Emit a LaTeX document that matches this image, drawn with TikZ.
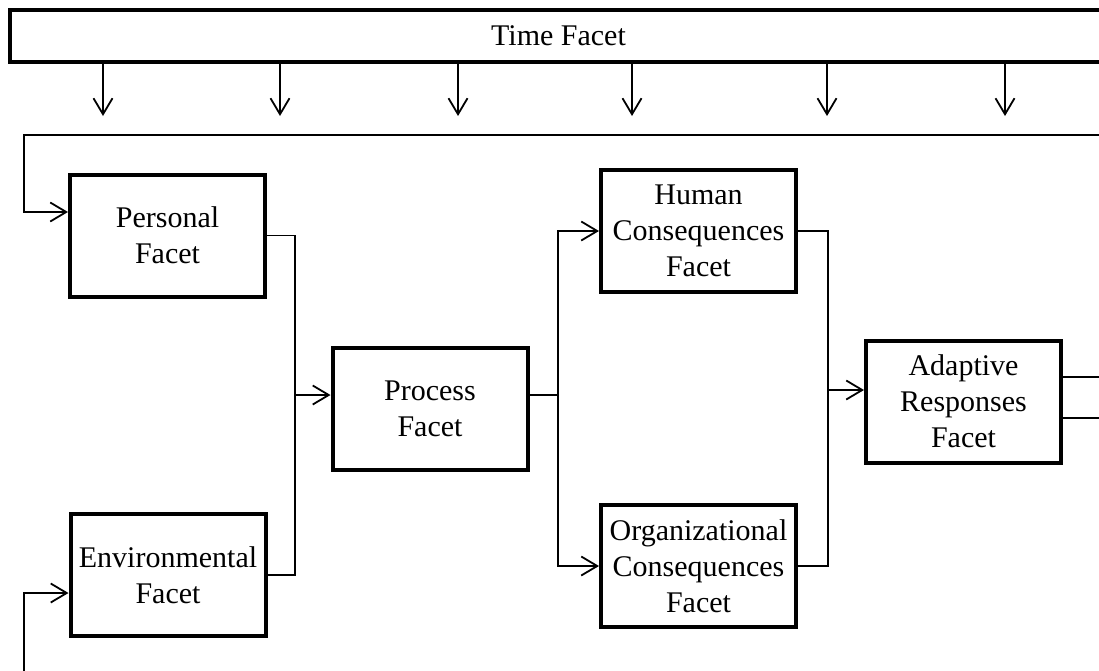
\documentclass[tikz,border=0pt]{standalone}
\usepackage{fontspec}
\setmainfont{Liberation Serif}
\usetikzlibrary{arrows.meta}

\tikzset{
  facet/.style={draw,line width=4pt,minimum width=195pt,minimum height=122pt,
    inner sep=0pt,align=center,font=\fontsize{30}{36}\selectfont},
  link/.style={line width=1.6pt},
  feed/.style={link,-{Straight Barb[length=16pt,width=19pt,line width=1.8pt]}}
}

\begin{document}
\begin{tikzpicture}[x=1pt,y=-1pt]
        \useasboundingbox (0,0) rectangle (1099,670);
        \clip (0,0) rectangle (1099,670);

        \node[facet,minimum width=1097pt,minimum height=52pt] (time) at (558.5,36) {Time Facet};

        \node[facet] (pers) at (167.5,235.5) {Personal\\Facet};
        \node[facet] (env) at (168,575) {Environmental\\Facet};
        \node[facet] (proc) at (430,408.5) {Process\\Facet};
        \node[facet] (hum) at (698.5,231) {Human\\Consequences\\Facet};
        \node[facet] (org) at (698.5,566) {Organizational\\Consequences\\Facet};
        \node[facet] (adap) at (963.5,401.5) {Adaptive\\Responses\\Facet};

        % time acts on every step
        \foreach \x in {103,280,458,632,827,1005}{
          \coordinate (tip) at (\x,116);
          \draw[feed] (tip |- time.south) -- (tip);
        }

        % feedback from the right
        \coordinate (back) at (1110,135);
        \coordinate (pin) at (24,212);
        \draw[feed] (back) -| (pin) -- (pers.west |- pin);
        \coordinate (ebot) at (24,680);
        \coordinate (ein) at (24,593);
        \draw[feed] (ebot) -- (ein) -- (env.west |- ein);

        % into process
        \coordinate (pj) at (295,395);
        \draw[link] (pers.east) -| (pj);
        \draw[link] (env.east) -| (pj);
        \draw[feed] (pj) -- (proc.west |- pj);

        % consequences
        \coordinate (ps) at (558,395);
        \draw[link] (proc.east |- ps) -- (ps);
        \draw[feed] (ps) |- (hum.west);
        \draw[feed] (ps) |- (org.west);

        % adaptive responses
        \coordinate (am) at (828,390);
        \draw[link] (hum.east) -| (am);
        \draw[link] (org.east) -| (am);
        \draw[feed] (am) -- (adap.west |- am);

        \coordinate (o1) at (1110,377);
        \coordinate (o2) at (1110,418);
        \draw[link] (adap.east |- o1) -- (o1);
        \draw[link] (adap.east |- o2) -- (o2);
\end{tikzpicture}
\end{document}
